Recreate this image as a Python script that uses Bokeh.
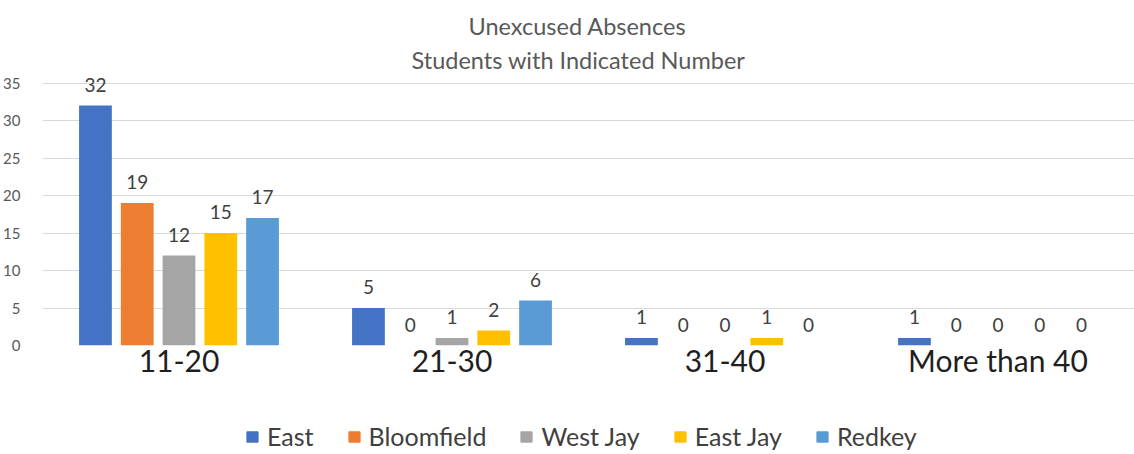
from bokeh.plotting import figure
from bokeh.models import FactorRange, Range1d, FixedTicker, Legend, LegendItem, Title, ColumnDataSource
from bokeh.layouts import column
from bokeh.transform import dodge
from bokeh.core.properties import value
from bokeh.embed import file_html
from bokeh.resources import INLINE

categories = ["11-20", "21-30", "31-40", "More than 40"]
schools = ["East", "Bloomfield", "West Jay", "East Jay", "Redkey"]
east = [32, 5, 1, 1]
bloomfield = [19, 0, 0, 0]
west_jay = [12, 1, 0, 0]
east_jay = [15, 2, 1, 0]
redkey = [17, 6, 0, 0]
colors = ["#4472C4", "#ED7D31", "#A5A5A5", "#FFC000", "#5B9BD5"]
y_ticks = [0, 5, 10, 15, 20, 25, 30, 35]
title_lines = ["Unexcused Absences", "Students with Indicated Number"]

series = [east, bloomfield, west_jay, east_jay, redkey]
FONT = "Lato"

p = figure(x_range=FactorRange(*categories, range_padding=0.0), y_range=Range1d(0, 36),
           width=1134, height=410, output_backend="svg", toolbar_location=None,
           min_border_left=40, min_border_right=0, min_border_top=75, min_border_bottom=65)
p.outline_line_color = None
p.background_fill_color = "white"

# second line (closest to the plot) first, then the first line above it
p.add_layout(Title(text=title_lines[1], align="left", text_font=FONT,
                   text_font_size="23.5px", text_color="#595959", text_font_style="normal",
                   standoff=4, offset=369), "above")
p.add_layout(Title(text=title_lines[0], align="left", text_font=FONT,
                   text_font_size="23.5px", text_color="#595959", text_font_style="normal",
                   standoff=4, offset=426), "above")

# legend-only figure
lg = figure(width=1134, height=44, output_backend="svg", toolbar_location=None,
            x_range=Range1d(0, 1), y_range=Range1d(0, 1),
            x_axis_location=None, y_axis_location=None,
            min_border_left=0, min_border_right=0, min_border_top=0, min_border_bottom=0)
lg.outline_line_color = None
lg.xgrid.grid_line_color = None
lg.ygrid.grid_line_color = None

items = []
step = 0.153
for i, (name, vals, col) in enumerate(zip(schools, series, colors)):
    src = ColumnDataSource(dict(cat=categories, v=vals, lab=[str(v) for v in vals]))
    off = (i - 2) * step
    p.vbar(x=dodge("cat", off, range=p.x_range), top="v", width=0.12, source=src,
           fill_color=col, line_color=None)
    p.text(x=dodge("cat", off, range=p.x_range), y="v", text="lab", source=src,
           text_align="center", text_baseline="bottom", y_offset=-14,
           text_font=value(FONT), text_font_size="19px", text_color="#404040")
    r = lg.vbar(x=[-10], top=[-10], bottom=[-11], width=1, fill_color=col, line_color=col)
    items.append(LegendItem(label=name, renderers=[r]))

legend = Legend(items=items, orientation="horizontal", location=(203, 3),
                label_text_font=FONT, label_text_font_size="25px", label_text_color="#404040",
                glyph_width=14, glyph_height=13, label_standoff=8, spacing=33,
                border_line_color=None, background_fill_alpha=0, margin=0, padding=2)
lg.add_layout(legend, "center")

p.yaxis.ticker = FixedTicker(ticks=y_ticks)
p.yaxis.axis_line_color = None
p.yaxis.major_tick_line_color = None
p.yaxis.minor_tick_line_color = None
p.yaxis.major_label_text_font = FONT
p.yaxis.major_label_text_font_size = "15px"
p.yaxis.major_label_text_color = "#595959"
p.yaxis.major_label_standoff = 16

p.xaxis.axis_line_color = None
p.xaxis.major_tick_line_color = None
p.xaxis.minor_tick_line_color = None
p.xaxis.major_label_text_font = FONT
p.xaxis.major_label_text_font_size = "30px"
p.xaxis.major_label_text_color = "#1f1f1f"
p.xaxis.major_label_standoff = -10

p.xgrid.grid_line_color = None
p.ygrid.grid_line_color = "#D9D9D9"
p.ygrid.grid_line_width = 1

open("out.html", "w").write(file_html(column(p, lg, spacing=0), INLINE))
